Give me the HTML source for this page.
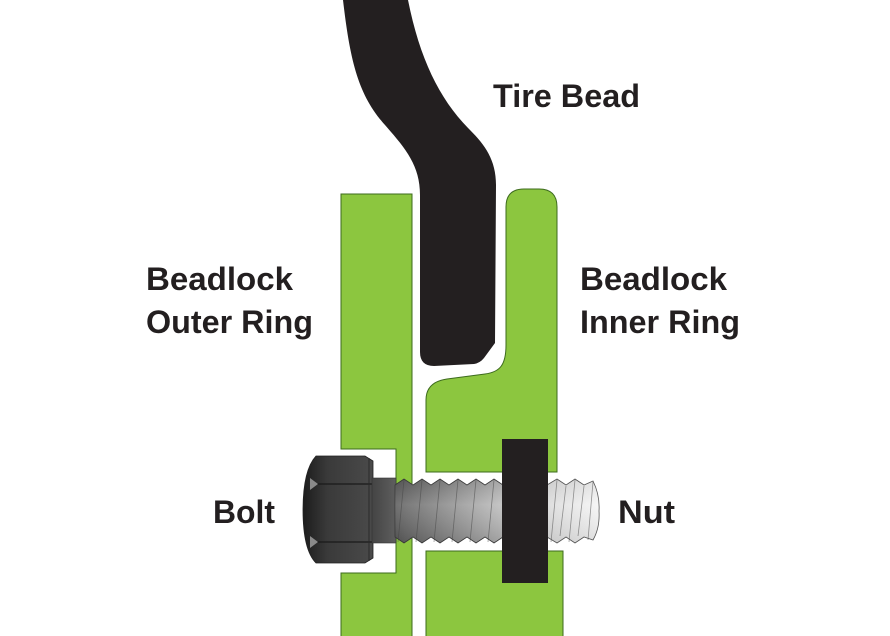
<!DOCTYPE html>
<html>
<head>
<meta charset="utf-8">
<style>
  html,body{margin:0;padding:0;background:#fff;}
  svg{display:block;}
  text{font-family:"Liberation Sans",Arial,sans-serif;font-weight:bold;font-size:32px;fill:#231f20;}
</style>
</head>
<body>
<svg width="890" height="636" viewBox="0 0 890 636" xmlns="http://www.w3.org/2000/svg">
  <defs>
    <linearGradient id="head" x1="303" y1="0" x2="373" y2="0" gradientUnits="userSpaceOnUse">
      <stop offset="0" stop-color="#1c1c1c"/>
      <stop offset="0.35" stop-color="#3a3a3a"/>
      <stop offset="1" stop-color="#4a4a4a"/>
    </linearGradient>
    <linearGradient id="shaft" x1="372" y1="0" x2="600" y2="0" gradientUnits="userSpaceOnUse">
      <stop offset="0" stop-color="#444"/>
      <stop offset="0.15" stop-color="#6a6a6a"/>
      <stop offset="0.45" stop-color="#a6a6a6"/>
      <stop offset="0.6" stop-color="#c4c4c4"/>
      <stop offset="0.8" stop-color="#e0e0e0"/>
      <stop offset="1" stop-color="#f6f6f6"/>
    </linearGradient>
    <linearGradient id="cyl" x1="0" y1="479" x2="0" y2="543" gradientUnits="userSpaceOnUse">
      <stop offset="0" stop-color="#000" stop-opacity="0.12"/>
      <stop offset="0.4" stop-color="#fff" stop-opacity="0.12"/>
      <stop offset="1" stop-color="#000" stop-opacity="0.15"/>
    </linearGradient>
  </defs>

  <!-- Tire bead -->
  <path d="M343,0 C350,60 358,95 385,125 C405,148 420,165 420,195 L420,352 Q420,366 434,366 L474,364 Q480,363 484,358 L495,343 L496,185 C496,160 485,145 470,130 C440,100 420,60 408,0 Z" fill="#231f20"/>

  <!-- Outer ring -->
  <path d="M341,194 L412,194 L412,640 L341,640 L341,573 L396,573 L396,449 L341,449 Z" fill="#8cc63f" stroke="#3d6b1e" stroke-width="1"/>

  <!-- Inner ring upper -->
  <path d="M506,207 Q506,189 524,189 L539,189 Q557,189 557,207 L557,472 L426,472 L426,400 C426,388 433,381 447,379 L485,374 C500,372 506,365 506,345 Z" fill="#8cc63f" stroke="#3d6b1e" stroke-width="1"/>

  <!-- Inner ring lower -->
  <path d="M426,551 L563,551 L563,640 L426,640 Z" fill="#8cc63f" stroke="#3d6b1e" stroke-width="1"/>

  <!-- Bolt head -->
  <path d="M316,456 L365,456 L373,461 L373,558 L365,563 L316,563 Q303,550 303,510 Q303,470 316,456 Z" fill="url(#head)" stroke="#222" stroke-width="0.8"/>
  <path d="M312,484 L373,484 M312,542 L373,542" stroke="#1a1a1a" stroke-width="1.2"/>
  <path d="M310,478 L318,484 L310,490 Z M310,536 L318,542 L310,548 Z" fill="#8a8a8a"/>
  <path d="M369,458 L369,561" stroke="#2a2a2a" stroke-width="1"/>

  <!-- Neck -->
  <rect x="372" y="478" width="24" height="65" fill="url(#shaft)" stroke="#333" stroke-width="0.6"/>

  <!-- Threaded shaft -->
  <path d="M395,485 L404,479 L413,485 L422,479 L431,485 L440,479 L449,485 L458,479 L467,485 L476,479 L485,485 L494,479 L503,485 L503,537 L494,543 L485,537 L476,543 L467,537 L458,543 L449,537 L440,543 L431,537 L422,543 L413,537 L404,543 L395,537 Z" fill="url(#shaft)" stroke="#3a3a3a" stroke-width="0.8"/>
  <path d="M395,485 L404,479 L413,485 L422,479 L431,485 L440,479 L449,485 L458,479 L467,485 L476,479 L485,485 L494,479 L503,485 L503,537 L494,543 L485,537 L476,543 L467,537 L458,543 L449,537 L440,543 L431,537 L422,543 L413,537 L404,543 L395,537 Z" fill="url(#cyl)"/>
  <g stroke="#444" stroke-width="0.8" opacity="0.55">
    <path d="M404,480 L398,542 M422,480 L416,542 M440,480 L434,542 M458,480 L452,542 M476,480 L470,542 M494,480 L488,542"/>
  </g>

  <!-- Thread end beyond nut -->
  <path d="M547,485 L557,479 L566,485 L575,479 L584,485 L593,481 Q600,495 599,511 Q600,528 593,540 L584,537 L575,543 L566,537 L557,543 L547,537 Z" fill="url(#shaft)" stroke="#555" stroke-width="0.8"/>
  <path d="M547,485 L557,479 L566,485 L575,479 L584,485 L593,481 Q600,495 599,511 Q600,528 593,540 L584,537 L575,543 L566,537 L557,543 L547,537 Z" fill="url(#cyl)" opacity="0.6"/>
  <g stroke="#555" stroke-width="0.8" opacity="0.6">
    <path d="M557,480 L551,542 M566,486 L560,536 M575,480 L569,542 M584,486 L578,536 M593,482 L588,540"/>
  </g>

  <!-- Nut -->
  <rect x="502" y="439" width="46" height="144" fill="#231f20"/>

  <!-- Labels -->
  <text x="493" y="107" textLength="147" lengthAdjust="spacingAndGlyphs">Tire Bead</text>
  <text x="146" y="290" textLength="147" lengthAdjust="spacingAndGlyphs">Beadlock</text>
  <text x="146" y="333" textLength="167" lengthAdjust="spacingAndGlyphs">Outer Ring</text>
  <text x="580" y="290" textLength="147" lengthAdjust="spacingAndGlyphs">Beadlock</text>
  <text x="580" y="333" textLength="160" lengthAdjust="spacingAndGlyphs">Inner Ring</text>
  <text x="213" y="523" textLength="62" lengthAdjust="spacingAndGlyphs">Bolt</text>
  <text x="618" y="523" textLength="57" lengthAdjust="spacingAndGlyphs">Nut</text>
</svg>
</body>
</html>
